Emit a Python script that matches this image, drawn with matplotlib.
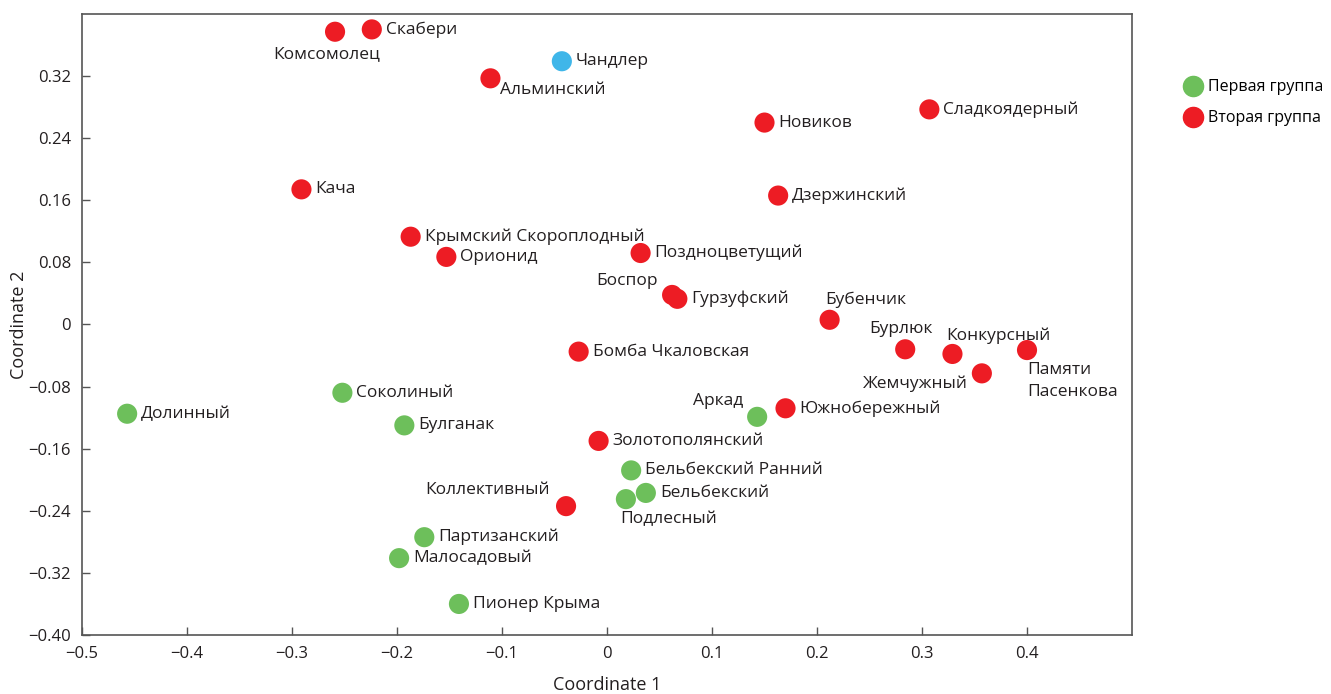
import matplotlib.pyplot as plt
from matplotlib.lines import Line2D

plt.rcParams['font.family'] = ['Open Sans', 'DejaVu Sans']

# Первая группа
names1 = ['Долинный', 'Соколиный', 'Булганак', 'Партизанский', 'Малосадовый',
          'Пионер Крыма', 'Аркад', 'Бельбекский Ранний', 'Бельбекский', 'Подлесный']
x1 = [-0.457, -0.252, -0.193, -0.174, -0.198, -0.141, 0.143, 0.023, 0.037, 0.018]
y1 = [-0.115, -0.088, -0.130, -0.274, -0.301, -0.360, -0.119, -0.188, -0.217, -0.225]

# Вторая группа
names2 = ['Комсомолец', 'Скабери', 'Альминский', 'Новиков', 'Сладкоядерный', 'Кача',
          'Дзержинский', 'Крымский Скороплодный', 'Орионид', 'Поздноцветущий',
          'Боспор', 'Гурзуфский', 'Бубенчик', 'Бурлюк', 'Конкурсный', 'Жемчужный',
          'Памяти\nПасенкова', 'Бомба Чкаловская', 'Южнобережный', 'Золотополянский',
          'Коллективный']
x2 = [-0.259, -0.224, -0.111, 0.150, 0.307, -0.291, 0.163, -0.187, -0.153, 0.032,
      0.062, 0.067, 0.212, 0.284, 0.329, 0.357, 0.400, -0.027, 0.170, -0.008, -0.039]
y2 = [0.377, 0.380, 0.317, 0.260, 0.277, 0.174, 0.166, 0.113, 0.087, 0.092,
      0.038, 0.033, 0.006, -0.032, -0.038, -0.063, -0.033, -0.035, -0.108, -0.150,
      -0.234]

# Отдельная точка
names3 = ['Чандлер']
x3 = [-0.043]
y3 = [0.339]

green = '#6dbf5b'
red = '#ed1c24'
blue = '#3fb6e9'

# label placement: (dx, dy in pixels, ha, va); default is to the right
offsets = {
    'Комсомолец': (-8, -14, 'center', 'top'),
    'Альминский': (10, -4, 'left', 'top'),
    'Боспор': (-14, 6, 'right', 'bottom'),
    'Бубенчик': (-4, 12, 'left', 'bottom'),
    'Бурлюк': (-4, 12, 'center', 'bottom'),
    'Конкурсный': (-6, 10, 'left', 'bottom'),
    'Жемчужный': (-14, -2, 'right', 'top'),
    'Памяти\nПасенкова': (0, -12, 'left', 'top'),
    'Аркад': (-14, 8, 'right', 'bottom'),
    'Коллективный': (-16, 8, 'right', 'bottom'),
    'Подлесный': (-6, -12, 'left', 'top'),
    'Малосадовый': (14, 0, 'left', 'center'),
}

fig = plt.figure(figsize=(13.31, 6.94), dpi=100)
ax = fig.add_axes([0.0616, 0.085, 0.7889, 0.895])

ms = 210
for names, xs, ys, c in [(names1, x1, y1, green), (names2, x2, y2, red), (names3, x3, y3, blue)]:
    ax.scatter(xs, ys, s=ms, color=c, edgecolors='none', zorder=3)
    for n, xv, yv in zip(names, xs, ys):
        dx, dy, ha, va = offsets.get(n, (14, 0, 'left', 'center'))
        ax.annotate(n, (xv, yv), xytext=(dx, dy), textcoords='offset pixels',
                    ha=ha, va=va, fontsize=12.5, color='#231f20', linespacing=1.5)

ax.set_xlim(-0.5, 0.5)
ax.set_ylim(-0.40, 0.40)
ax.set_xticks([-0.5, -0.4, -0.3, -0.2, -0.1, 0, 0.1, 0.2, 0.3, 0.4])
ax.set_xticklabels(['\u22120.5', '\u22120.4', '\u22120.3', '\u22120.2', '\u22120.1',
                    '0', '0.1', '0.2', '0.3', '0.4'])
yt = [-0.40, -0.32, -0.24, -0.16, -0.08, 0, 0.08, 0.16, 0.24, 0.32]
ax.set_yticks(yt)
ax.set_yticklabels([('\u2212%.2f' % -v) if v < 0 else ('0' if v == 0 else '%.2f' % v) for v in yt])
ax.tick_params(direction='in', length=6, width=1, colors='#555555', labelcolor='#231f20',
               labelsize=12, pad=8)
for s in ax.spines.values():
    s.set_color('#555555')
    s.set_linewidth(1.2)

ax.set_xlabel('Coordinate 1', fontsize=13, color='#231f20', labelpad=10)
ax.set_ylabel('Coordinate 2', fontsize=13, color='#231f20', labelpad=0)

handles = [Line2D([], [], marker='o', linestyle='none', markersize=14.5, color=green),
           Line2D([], [], marker='o', linestyle='none', markersize=14.5, color=red)]
fig.legend(handles, ['Первая группа', 'Вторая группа'], loc='upper left',
           bbox_to_anchor=(0.884, 0.895), frameon=False, fontsize=11.5,
           handletextpad=0.35, labelspacing=0.95, handlelength=1.2, borderaxespad=0)

fig.savefig('out.png', dpi=100)
